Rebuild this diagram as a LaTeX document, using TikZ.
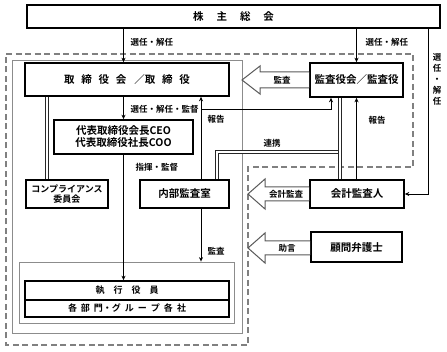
\documentclass[tikz,border=0pt]{standalone}
\usepackage{fontspec}
\setmainfont{Noto Sans CJK JP}[BoldFont={Noto Sans CJK JP Bold}]
\usetikzlibrary{arrows.meta,positioning}

\begin{document}
\begin{tikzpicture}[x=1pt, y=-1pt,
  every node/.style={font=\bfseries\fontsize{8.5}{10}\selectfont},
  orgbox/.style={draw, line width=1.6pt, fill=white, inner sep=0pt, align=center,
    font=\bfseries\fontsize{10.5}{12}\selectfont},
  conn/.style={-{Stealth[length=4.5pt,width=4pt]}, line width=0.9pt},
  twin/.style={draw=black!85, line width=0.9pt, double=white, double distance=1.4pt},
  hollow/.style={draw=black!65, line width=1pt, fill=white, line join=miter},
  zone/.style={draw=black!50, line width=1.3pt, dash pattern=on 6pt off 3.5pt}]
\useasboundingbox (0,0) rectangle (447,352);

% ==== Zones ====
\draw[zone] (6,54) -- (413,54) -- (413,167) -- (248,167) -- (248,345) -- (6,345) -- cycle;
\draw[black!45, line width=0.8pt] (12,60) rectangle (242,333);
\node[draw=black!45, line width=0.8pt, minimum width=215, minimum height=61]
    (grp) at (126.5,292.5) {};

% ==== Boxes ====
\node[orgbox, minimum width=413, minimum height=23]
    (soukai) at (233.5,16.5) {株\hspace{13pt}主\hspace{13pt}総\hspace{13pt}会};
\node[orgbox, minimum width=204, minimum height=33]
    (torishimari) at (127,79.5) {取\hspace{0.65em}締\hspace{0.65em}役\hspace{0.65em}会\hspace{0.75em}／取\hspace{0.65em}締\hspace{0.65em}役};
\node[orgbox, minimum width=93, minimum height=34]
    (kansayaku) at (356.5,80) {監査役会／監査役};
\node[orgbox, minimum width=139, minimum height=34]
    (ceo) at (123.5,137) {代表取締役会長CEO\\代表取締役社長COO};
\node[orgbox, minimum width=82, minimum height=28, font=\bfseries\fontsize{9}{10.5}\selectfont]
    (comp) at (67,194) {コンプライアンス\\委員会};
\node[orgbox, minimum width=89, minimum height=28]
    (naibu) at (184.5,194) {内部監査室};
\node[orgbox, minimum width=94, minimum height=28]
    (kaikei) at (357,194) {会計監査人};
\node[orgbox, minimum width=91, minimum height=30]
    (komon) at (356.5,247) {顧問弁護士};
\node[orgbox, minimum width=204, minimum height=19, font=\bfseries\fontsize{9}{10}\selectfont]
    (shikkou) at (127,290.5) {執\hspace{9pt}行\hspace{9pt}役\hspace{9pt}員};
\node[orgbox, minimum width=204, minimum height=17, font=\bfseries\fontsize{9}{10}\selectfont]
    (bumon) at (127,308.5) {各\hspace{4pt}部\hspace{4pt}門・グ\hspace{4pt}ル\hspace{4pt}ー\hspace{4pt}プ\hspace{4pt}各\hspace{4pt}社};

% ==== Connectors ====
\coordinate (rt)  at (428,194);
\coordinate (rep) at (201,109);
\coordinate (kr)  at (331,109);
\coordinate (cl)  at (47,100);
\coordinate (lkn) at (217,152);
\coordinate (lk)  at (340,152);
\draw[conn] (soukai.south -| ceo) -- (torishimari.north -| ceo);
\draw[conn] (soukai.south -| kansayaku) -- (kansayaku.north);
\draw[conn] (soukai.south -| rt) -- (rt) -- (kaikei.east);
\draw[conn] (torishimari.south -| ceo) -- (ceo.north);
\draw[conn] (ceo.south) -- (shikkou.north -| ceo);
\draw[conn] (naibu.north -| rep) -- (torishimari.south -| rep);
\draw[conn] (rep) -- (kr) -- (kansayaku.south -| kr);
\draw[conn] (naibu.south -| rep) -- (grp.north -| rep);
\draw[conn] (kaikei.north -| kansayaku) -- (kansayaku.south);
\draw[twin] (torishimari.south -| cl) -- (comp.north -| cl);
\draw[twin] (naibu.north -| lkn) -- (lkn) -- (lk);
\draw[twin] (kansayaku.south -| lk) -- (kaikei.north -| lk);

% ==== Hollow arrows ====
\draw[hollow] (kansayaku.west |- 0,72) -- (260,72) -- (260,66) -- (242,80)
    -- (260,94) -- (260,88) -- (kansayaku.west |- 0,88);
\draw[hollow] (kaikei.west |- 0,187) -- (265,187) -- (265,179) -- (248,194)
    -- (265,209) -- (265,201) -- (kaikei.west |- 0,201);
\draw[hollow] (komon.west |- 0,241) -- (265,241) -- (265,233) -- (248,248)
    -- (265,263) -- (265,255) -- (komon.west |- 0,255);

% ==== Labels ====
\node[anchor=west] (l1) at (127,42) {選任・解任};
\node[anchor=west] (l2) at (362,42) {選任・解任};
\node[align=center, font=\bfseries\fontsize{8.5}{11}\selectfont] (l3) at (437,79) {選\\任\\・\\解\\任};
\node[anchor=west] (l4) at (127,109) {選任・解任・監督};
\node[anchor=west] (l5) at (204,119) {報告};
\node[anchor=west] (l6) at (365,120) {報告};
\node (l7) at (272,143) {連携};
\node[anchor=west] (l8) at (132,167) {指揮・監督};
\node[anchor=west] (l9) at (204,251) {監査};
\node (l10) at (282,80) {監査};
\node (l11) at (286,194) {会計監査};
\node (l12) at (287,248) {助言};
\end{tikzpicture}
\end{document}
